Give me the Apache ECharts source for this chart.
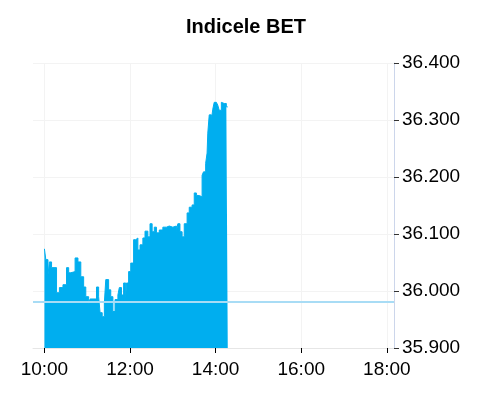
<!DOCTYPE html>
<html>
<head>
<meta charset="utf-8">
<script src="https://cdn.jsdelivr.net/npm/echarts@6/dist/echarts.min.js"></script>
<style>html,body{margin:0;padding:0;background:#fff;}#c{width:492px;height:400px;}</style>
</head>
<body>
<div id="c"></div>
<script>
const title = 'Indicele BET';
const times = ['10:00','10:02','10:05','10:07','10:10','10:17','10:21','10:26','10:31','10:34','10:37','10:43','10:47','10:51','10:55','10:58','11:02','11:04','11:13','11:16','11:18','11:21','11:24','11:26','11:30','11:33','11:36','11:39','11:43','11:45','11:48','11:51','11:54','11:55','11:58','12:01','12:05','12:08','12:11','12:14','12:18','12:21','12:25','12:28','12:31','12:34','12:37','12:41','12:46','12:51','12:55','13:00','13:05','13:07','13:10','13:13','13:16','13:20','13:23','13:27','13:30','13:33','13:35','13:38','13:41','13:43','13:46','13:48','13:49','13:51','13:54','13:56','13:58','14:01','14:03','14:05','14:08','14:10','14:12','14:15','14:17'];
const values = [36074,36055,36028,36051,36041,35997,36006,36011,36041,36032,36034,36058,36051,36025,36007,35990,35978,35986,36007,35990,35962,35955,35979,36020,36002,35990,35964,35985,35993,36006,35993,36014,35988,36014,36034,36049,36090,36093,36072,36081,36093,36105,36095,36118,36104,36112,36102,36107,36112,36114,36112,36114,36104,36118,36104,36095,36118,36137,36147,36151,36172,36168,36167,36165,36203,36209,36224,36242,36277,36309,36300,36319,36331,36329,36326,36317,36331,36329,36329,36323,36323];
const previousClose = 35982;
const xTicks = ['10:00','12:00','14:00','16:00','18:00'];
const yTicks = [35900,36000,36100,36200,36300,36400];
const xRange = ['09:44','18:10'];

function toMin(hm){ const p = hm.split(':'); return (+p[0])*60 + (+p[1]); }
function pad(n){ return (n<10?'0':'')+n; }

const tickMins = xTicks.map(toMin);
const chart = echarts.init(document.getElementById('c'), null, {renderer:'canvas'});
chart.setOption({
  animation:false,
  title:{text:title,left:'center',top:12,textStyle:{fontFamily:'Liberation Sans, Arial',fontSize:20,fontWeight:'bold',color:'#000'}},
  grid:{left:33,right:98,top:63,bottom:52},
  xAxis:{
    type:'value',
    min:toMin(xRange[0]), max:toMin(xRange[1]),
    axisLine:{show:true,lineStyle:{color:'#e6e6e6',width:1}},
    axisTick:{show:true,length:5,customValues:tickMins,lineStyle:{color:'#000'}},
    splitLine:{show:true,lineStyle:{color:'#f3f3f3',width:1}},
    axisLabel:{
      customValues:tickMins,
      fontFamily:'Liberation Sans, Arial',fontSize:19,color:'#000',margin:12,
      formatter:function(v){ return pad(Math.floor(v/60))+':'+pad(v%60); }
    }
  },
  yAxis:{
    type:'value', position:'right',
    min:yTicks[0], max:yTicks[yTicks.length-1], interval:100,
    axisLine:{show:true,lineStyle:{color:'#ccd6eb',width:1}},
    axisTick:{show:true,length:5,lineStyle:{color:'#333'}},
    splitLine:{show:true,lineStyle:{color:'#f3f3f3',width:1}},
    axisLabel:{fontFamily:'Liberation Sans, Arial',fontSize:19,color:'#000',margin:8,
      formatter:function(v){ return (v/1000).toFixed(3); }}
  },
  series:[{
    type:'line',
    step:'end',
    showSymbol:false,
    data:times.map(function(t,i){ return [toMin(t), values[i]]; }),
    lineStyle:{color:'#00aeef',width:1},
    areaStyle:{color:'#00aeef',opacity:1,origin:'start'},
    markLine:{
      silent:true, symbol:['none','none'], label:{show:false},
      lineStyle:{color:'#a8dcf5',width:2,type:'solid'},
      data:[{yAxis:previousClose}]
    }
  }]
});
</script>
</body>
</html>
